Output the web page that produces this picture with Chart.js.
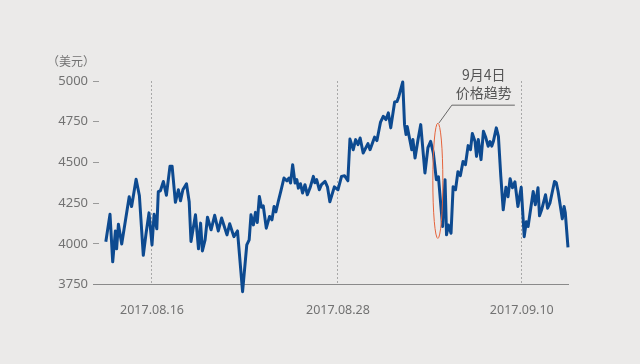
<!DOCTYPE html>
<html>
<head>
<meta charset="utf-8">
<script src="https://cdn.jsdelivr.net/npm/chart.js@4.4.1/dist/chart.umd.min.js"></script>
<style>
    html, body { margin: 0; padding: 0; background: #ebeae9; }
    #wrap { width: 640px; height: 364px; }
</style>
</head>
<body>
<div id="wrap"><canvas id="chart" width="640" height="364"></canvas></div>
<script>
// time steps of the series (sample index) and price in USD
const steps = [
    0.6, 2.0, 2.9, 3.8, 4.2, 4.8, 5.9, 8.4, 9.2, 10.7, 11.8, 13.1, 14.0, 15.0, 16.0, 16.7, 17.6, 18.1, 18.8, 19.8,
    20.8, 22.0, 22.7, 23.8, 24.8, 25.5, 26.3, 27.5, 28.4, 29.0, 30.5, 31.5, 32.2, 32.8, 33.7, 34.5, 35.7, 36.9, 38.1, 39.2,
    41.0, 41.9, 43.3, 44.5, 46.2, 47.6, 48.4, 49.0, 49.8, 50.5, 51.1, 51.8, 52.5, 53.1, 54.1, 55.2, 56.0, 56.7, 57.3, 58.1,
    59.0, 60.0, 61.0, 61.7, 62.2, 62.9, 63.7, 64.3, 64.8, 65.5, 66.2, 67.0, 67.8, 68.7, 69.8, 70.3, 70.9, 71.8, 72.5, 73.7,
    74.5, 75.3, 76.8, 78.0, 79.2, 80.2, 81.3, 82.0, 83.1, 83.9, 84.7, 85.4, 86.4, 88.0, 88.7, 90.2, 91.0, 92.2, 93.1, 94.0,
    94.8, 95.6, 96.9, 97.7, 98.3, 99.6, 100.2, 100.7, 101.1, 102.6, 103.0, 103.7, 104.7, 105.6, 107.0, 108.0, 108.9, 109.8, 110.8, 111.5,
    112.9, 113.7, 114.2, 114.8, 115.7, 116.4, 117.2, 118.0, 118.8, 119.7, 120.5, 121.4, 122.2, 122.8, 123.7, 124.2, 124.8, 125.7, 126.5, 127.2,
    128.1, 128.7, 129.3, 129.8, 130.8, 131.5, 132.3, 133.1, 134.0, 134.7, 135.4, 136.2, 137.0, 138.0, 139.1, 140.1, 140.8, 141.4, 143.1, 143.8,
    144.7, 145.2, 145.9, 147.2, 147.9, 148.7, 150.2, 150.8, 151.4, 152.8, 153.4, 153.8, 154.7
];
const prices = [
    4012, 4181, 3889, 4079, 3969, 4120, 3999, 4289, 4229, 4397, 4295, 3929, 4061, 4190, 3993, 4181, 4092, 4321, 4326, 4383,
    4298, 4477, 4477, 4255, 4332, 4264, 4332, 4369, 4258, 4014, 4178, 3969, 4127, 3956, 4024, 4163, 4086, 4175, 4079, 4158,
    4055, 4123, 4044, 4079, 3706, 3993, 4024, 4178, 4116, 4193, 4131, 4291, 4224, 4233, 4096, 4168, 4147, 4229, 4196, 4260,
    4326, 4404, 4387, 4404, 4373, 4486, 4373, 4394, 4342, 4369, 4312, 4363, 4301, 4344, 4414, 4375, 4394, 4332, 4363, 4383,
    4350, 4258, 4350, 4332, 4414, 4418, 4387, 4643, 4578, 4640, 4609, 4650, 4558, 4615, 4578, 4655, 4634, 4748, 4783, 4763,
    4804, 4712, 4871, 4874, 4905, 4994, 4732, 4671, 4720, 4578, 4640, 4527, 4640, 4732, 4435, 4591, 4629, 4558, 4394, 4412,
    4106, 4394, 4055, 4116, 4065, 4350, 4332, 4443, 4418, 4506, 4486, 4603, 4578, 4677, 4628, 4537, 4640, 4517, 4691, 4658,
    4599, 4628, 4600, 4628, 4712, 4660, 4414, 4209, 4347, 4289, 4400, 4344, 4381, 4229, 4347, 4044, 4135, 4106, 4321, 4240,
    4344, 4172, 4209, 4301, 4219, 4252, 4383, 4375, 4321, 4153, 4229, 4190, 3978
];

const tickSteps = [16, 78, 139.3];
const tickLabels = ["2017.08.16", "2017.08.28", "2017.09.10"];
const yMin = 3750;
const yMax = 5000;
const yStep = 250;
const unitLabel = "（美元）";

// 9月4日 annotation: the ringed drop
const noteLines = ["9月4日", "价格趋势"];
const noteStep = 111.3;
const noteRange = [4033, 4741];

const textColor = "#727272";
const numFont = "'Noto Sans', 'DejaVu Sans', sans-serif";
const cjkFont = "'Noto Sans CJK SC', 'Noto Sans', sans-serif";

const extras = {
    id: "extras",
    afterDatasetsDraw(chart) {
        const {ctx, chartArea, scales} = chart;
        const x = scales.x, y = scales.y;

        ctx.save();
        ctx.fillStyle = textColor;
        ctx.font = "12px " + cjkFont;
        ctx.textAlign = "center";
        ctx.textBaseline = "middle";
        ctx.fillText(unitLabel, chartArea.left - 28, chartArea.top - 20);

        const cx = x.getPixelForValue(noteStep);
        const top = y.getPixelForValue(noteRange[1]);
        const bottom = y.getPixelForValue(noteRange[0]);
        ctx.strokeStyle = "#e5633b";
        ctx.lineWidth = 1;
        ctx.beginPath();
        ctx.ellipse(cx, (top + bottom) / 2, 5, (bottom - top) / 2, 0, 0, Math.PI * 2);
        ctx.stroke();

        ctx.strokeStyle = "#666";
        ctx.beginPath();
        ctx.moveTo(cx + 1, top);
        ctx.lineTo(cx + 14, top - 18);
        ctx.lineTo(cx + 77, top - 18);
        ctx.stroke();

        ctx.fillStyle = "#555";
        ctx.font = "14px " + cjkFont;
        ctx.fillText(noteLines[0], cx + 46, top - 48);
        ctx.fillText(noteLines[1], cx + 46, top - 30);
        ctx.restore();
    }
};

new Chart(document.getElementById("chart"), {
    type: "line",
    data: {
        datasets: [{
            data: steps.map((s, i) => ({x: s, y: prices[i]})),
            borderColor: "#0d4a90",
            borderWidth: 3,
            borderJoinStyle: "round",
            pointRadius: 0,
            tension: 0,
            clip: false
        }]
    },
    options: {
        responsive: false,
        animation: false,
        layout: {padding: {top: 81, right: 72, left: 0, bottom: 0}},
        plugins: {legend: {display: false}, tooltip: {enabled: false}},
        scales: {
            x: {
                type: "linear",
                min: -1.67,
                max: 154.7,
                afterBuildTicks: (scale) => {
                    scale.ticks = tickSteps.map(v => ({value: v}));
                },
                afterFit: (scale) => { scale.height = 79.5; },
                ticks: {
                    autoSkip: false,
                    maxRotation: 0,
                    padding: 18,
                    color: textColor,
                    font: {family: numFont, size: 12.5},
                    callback: (v, i) => tickLabels[i]
                },
                grid: {color: "#a8a8a8", lineWidth: 1, drawTicks: false},
                border: {display: true, color: "#8a8a8a", width: 1, dash: [2, 2]}
            },
            y: {
                min: yMin,
                max: yMax,
                afterFit: (scale) => { scale.width = 99; },
                ticks: {
                    stepSize: yStep,
                    padding: 5,
                    color: textColor,
                    font: {family: numFont, size: 13},
                    callback: (v) => String(v)
                },
                grid: {
                    drawOnChartArea: false,
                    drawTicks: true,
                    tickLength: 6,
                    tickColor: (c) => c.tick && c.tick.value === yMin ? "#8a8a8a" : "#9a9a9a"
                },
                border: {display: false}
            }
        }
    },
    plugins: [extras]
});
</script>
</body>
</html>
